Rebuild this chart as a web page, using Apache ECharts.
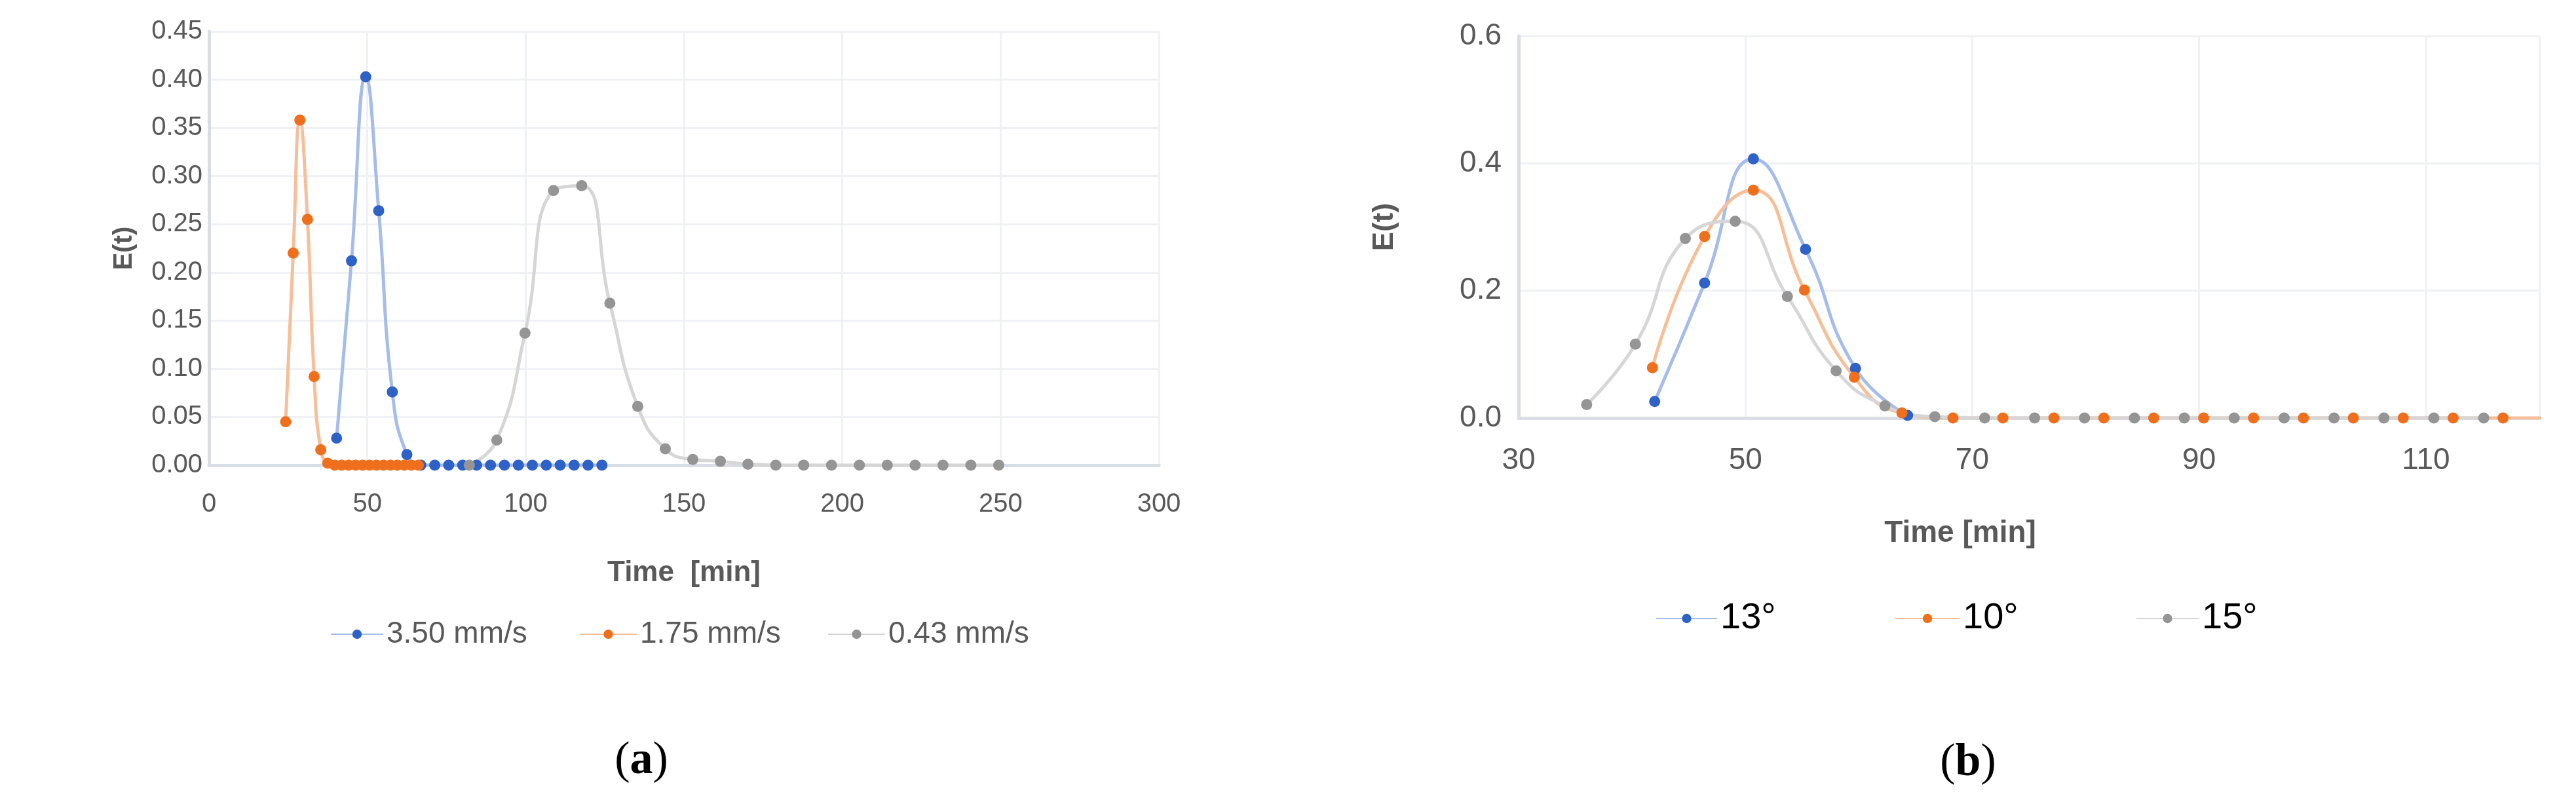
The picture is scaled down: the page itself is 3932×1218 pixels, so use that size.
<!DOCTYPE html>
<html>
<head>
<meta charset="utf-8">
<script src="https://cdn.jsdelivr.net/npm/echarts@6/dist/echarts.min.js"></script>
<style>
  html, body { margin: 0; padding: 0; background: #ffffff; }
  #chart { width: 3932px; height: 1218px; }
</style>
</head>
<body>
<div id="chart"></div>
<script>
// (a) flow velocity
const blueA_t = [40.3, 45.0, 49.5, 53.6, 57.9, 62.5, 66.9, 71.3, 75.7, 80.1, 84.5, 88.9, 93.3, 97.7, 102.1, 106.5, 110.9, 115.3, 119.7, 124.1];
const blueA_e = [0.028, 0.212, 0.403, 0.264, 0.076, 0.011, 0, 0, 0, 0, 0, 0, 0, 0, 0, 0, 0, 0, 0, 0];
const orangeA_t = [24.2, 26.6, 28.7, 31.1, 33.2, 35.3, 37.5, 39.7, 41.9, 44.1, 46.3, 48.5, 50.7, 52.9, 55.1, 57.3, 59.5, 61.7, 63.9, 66.1];
const orangeA_e = [0.045, 0.220, 0.358, 0.255, 0.092, 0.016, 0.002, 0, 0, 0, 0, 0, 0, 0, 0, 0, 0, 0, 0, 0];
const grayA_t = [82.2, 90.9, 99.8, 108.8, 117.7, 126.6, 135.4, 144.1, 152.8, 161.5, 170.2, 179.0, 187.8, 196.6, 205.4, 214.2, 223.0, 231.8, 240.6, 249.4];
const grayA_e = [0.0, 0.026, 0.137, 0.285, 0.290, 0.168, 0.061, 0.017, 0.006, 0.004, 0.001, 0, 0, 0, 0, 0, 0, 0, 0, 0];

// (b) angle
const blueB_t = [42.0, 46.4, 50.7, 55.3, 59.7, 64.3];
const blueB_e = [0.026, 0.212, 0.407, 0.265, 0.078, 0.004];
const orangeB_t = [41.8, 46.4, 50.7, 55.2, 59.6, 63.8, 68.3, 72.7, 77.2, 81.6, 86.0, 90.4, 94.8, 99.2, 103.6, 108.0, 112.4, 116.8, 121.2];
const orangeB_e = [0.079, 0.285, 0.358, 0.201, 0.064, 0.008, 0, 0, 0, 0, 0, 0, 0, 0, 0, 0, 0, 0, 0];
const grayB_t = [36.0, 40.3, 44.7, 49.1, 53.7, 58.0, 62.3, 66.7, 71.1, 75.5, 79.9, 84.3, 88.7, 93.1, 97.5, 101.9, 106.3, 110.7, 115.1];
const grayB_e = [0.021, 0.116, 0.282, 0.309, 0.191, 0.074, 0.019, 0.002, 0, 0, 0, 0, 0, 0, 0, 0, 0, 0, 0];

const namesA = ["3.50 mm/s", "1.75 mm/s", "0.43 mm/s"];
const namesB = ["13°", "10°", "15°"];

const FONT = "Liberation Sans";
const BLUE = "#2f62c6", BLUE_L = "#a6bde9";
const ORANGE = "#ef6f1c", ORANGE_L = "#f6bf99";
const GRAY = "#959595", GRAY_L = "#d6d6d6";

function pairs(t, e) {
  return t.map((x, i) => [x, e[i]]);
}

function line(name, idx, t, e, color, light) {
  return {
    name: name,
    type: "line",
    xAxisIndex: idx,
    yAxisIndex: idx,
    data: pairs(t, e),
    smooth: 0.5,
    symbol: "circle",
    symbolSize: 17,
    clip: true,
    itemStyle: { color: color },
    lineStyle: { color: light, width: 5 },
  };
}

function legendItem(name, left, top, width, textStyle) {
  return {
    data: [name],
    left: left,
    top: top,
    itemWidth: width,
    itemHeight: 18,
    itemGap: 0,
    selectedMode: false,
    textStyle: textStyle,
  };
}

function caption(letter, x, y) {
  return {
    type: "text", x: x, y: y,
    style: {
      text: "{p|(}{b|" + letter + "}{p|)}", align: "center", verticalAlign: "middle",
      rich: {
        p: { fontFamily: "Liberation Serif", fontSize: 70, fill: "#000" },
        b: { fontFamily: "Liberation Serif", fontSize: 70, fontWeight: "bold", fill: "#000" },
      },
    },
  };
}

const tickText = { fontFamily: FONT, color: "#595959" };
const nameText = { fontFamily: FONT, color: "#595959", fontWeight: "bold" };
const gridLine = { lineStyle: { color: "#eff1f4", width: 3 } };
const axisLine = { show: true, lineStyle: { color: "#d8dde6", width: 5 } };

const chart = echarts.init(document.getElementById("chart"));
chart.setOption({
  animation: false,
  backgroundColor: "#ffffff",
  grid: [
    { left: 319, top: 48, width: 1450, height: 662 },
    { left: 2318, top: 55, width: 1558, height: 583 },
  ],
  xAxis: [
    {
      gridIndex: 0, type: "value", min: 0, max: 300, interval: 50,
      name: "Time  [min]", nameLocation: "middle", nameGap: 143,
      nameTextStyle: Object.assign({ fontSize: 44 }, nameText),
      axisLine: axisLine, axisTick: { show: false },
      axisLabel: Object.assign({ fontSize: 40, margin: 40 }, tickText),
      splitLine: gridLine,
    },
    {
      gridIndex: 1, type: "value", min: 30, max: 120, interval: 20,
      name: "Time [min]", nameLocation: "middle", nameGap: 153,
      nameTextStyle: Object.assign({ fontSize: 46, padding: [0, 210, 0, 0] }, nameText),
      axisLine: axisLine, axisTick: { show: false },
      axisLabel: Object.assign({ fontSize: 46, margin: 42, showMaxLabel: false }, tickText),
      splitLine: gridLine,
    },
  ],
  yAxis: [
    {
      gridIndex: 0, type: "value", min: 0, max: 0.45, interval: 0.05,
      name: "E(t)", nameLocation: "middle", nameGap: 109,
      nameTextStyle: Object.assign({ fontSize: 40 }, nameText),
      axisLine: axisLine, axisTick: { show: false },
      axisLabel: Object.assign({ fontSize: 40, margin: 10, formatter: (v) => v.toFixed(2) }, tickText),
      splitLine: gridLine,
    },
    {
      gridIndex: 1, type: "value", min: 0, max: 0.6, interval: 0.2,
      name: "E(t)", nameLocation: "middle", nameGap: 182,
      nameTextStyle: Object.assign({ fontSize: 44 }, nameText),
      axisLine: axisLine, axisTick: { show: false },
      axisLabel: Object.assign({ fontSize: 46, margin: 26, formatter: (v) => v.toFixed(1) }, tickText),
      splitLine: gridLine,
    },
  ],
  legend: [
    legendItem(namesA[0], 499, 940, 80, Object.assign({ fontSize: 46 }, tickText)),
    legendItem(namesA[1], 879, 940, 87, Object.assign({ fontSize: 46 }, tickText)),
    legendItem(namesA[2], 1258, 940, 87, Object.assign({ fontSize: 46 }, tickText)),
    legendItem(namesB[0], 2522, 911, 93, { fontFamily: FONT, fontSize: 56, color: "#000000" }),
    legendItem(namesB[1], 2887, 911, 98, { fontFamily: FONT, fontSize: 56, color: "#000000" }),
    legendItem(namesB[2], 3255, 911, 95, { fontFamily: FONT, fontSize: 56, color: "#000000" }),
  ],
  graphic: [
    caption("a", 979, 1162),
    caption("b", 3004, 1165),
  ],
  series: [
    line(namesA[0], 0, blueA_t, blueA_e, BLUE, BLUE_L),
    line(namesA[1], 0, orangeA_t, orangeA_e, ORANGE, ORANGE_L),
    line(namesA[2], 0, grayA_t, grayA_e, GRAY, GRAY_L),
    line(namesB[0], 1, blueB_t, blueB_e, BLUE, BLUE_L),
    line(namesB[1], 1, orangeB_t, orangeB_e, ORANGE, ORANGE_L),
    line(namesB[2], 1, grayB_t, grayB_e, GRAY, GRAY_L),
  ],
});
</script>
</body>
</html>
